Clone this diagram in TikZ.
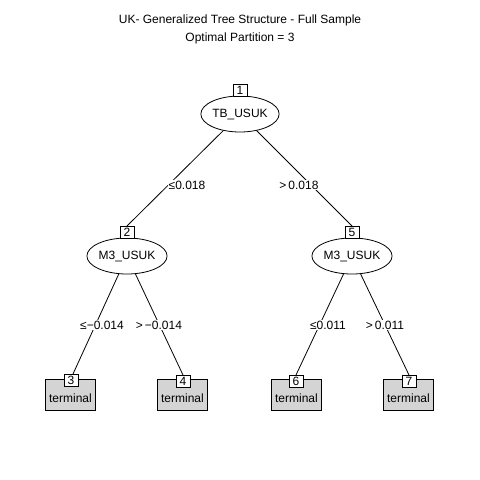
\documentclass[tikz,border=0pt]{standalone}
\usepackage{fontspec}
\setmainfont{Liberation Sans}
\usetikzlibrary{shapes.geometric}
\begin{document}
\begin{tikzpicture}[x=1pt,y=-1pt,line width=0.8pt,
  inner/.style={draw,ellipse,fill=white,minimum width=74pt,minimum height=36pt,inner sep=0pt,font=\fontsize{12}{14}\selectfont},
  idbox/.style={draw,fill=white,minimum width=14pt,minimum height=12pt,inner sep=0pt,font=\fontsize{12}{14}\selectfont},
  leaf/.style={draw,fill=black!17,minimum width=50pt,minimum height=31pt,inner sep=0pt,font=\fontsize{12}{14}\selectfont,text depth=0pt},
  elabel/.style={fill=white,inner sep=1pt,font=\fontsize{12}{14}\selectfont},
  conn/.style={draw}]
\path[use as bounding box,fill=white] (0,0) rectangle (480,480);
\node[font=\fontsize{12}{14}\selectfont] (t1) at (240,20) {UK- Generalized Tree Structure - Full Sample};
\node[font=\fontsize{12}{14}\selectfont] (t2) at (240,38) {Optimal Partition = 3};
% coordinates
\coordinate (c1) at (240,114);
\coordinate (c2) at (127,256);
\coordinate (c5) at (352,256);
\coordinate (c3) at (70.5,394.5);
\coordinate (c4) at (182.5,394.5);
\coordinate (c6) at (296.5,394.5);
\coordinate (c7) at (408.5,394.5);
% connectors
\draw[conn] (c1) -- (127,226) coordinate (b2top);
\draw[conn] (c1) -- (352,226) coordinate (b5top);
\draw[conn] (c2) -- (73,374);
\draw[conn] (c2) -- (183,375);
\draw[conn] (c5) -- (296,375);
\draw[conn] (c5) -- (409,375);
% inner nodes
\node[inner] (n1) at (c1) {TB\_USUK};
\node[idbox] (i1) at (240,90) {1};
\node[inner] (n2) at (c2) {M3\_USUK};
\node[idbox] (i2) at (127,232) {2};
\node[inner] (n5) at (c5) {M3\_USUK};
\node[idbox] (i5) at (352,232) {5};
% leaves
\node[leaf] (n3) at (c3) {\raisebox{-7pt}{terminal}};
\node[idbox] (i3) at (71,380) {3};
\node[leaf] (n4) at (c4) {\raisebox{-7pt}{terminal}};
\node[idbox] (i4) at (183,381) {4};
\node[leaf] (n6) at (c6) {\raisebox{-7pt}{terminal}};
\node[idbox] (i6) at (296,381) {6};
\node[leaf] (n7) at (c7) {\raisebox{-7pt}{terminal}};
\node[idbox] (i7) at (409,381) {7};
% edge labels
\node[elabel] (l12) at (187,185) {≤0.018};
\node[elabel] (l15) at (299,185) {>\,0.018};
\node[elabel] (l23) at (102,325) {≤−0.014};
\node[elabel] (l24) at (159,325) {>\,−0.014};
\node[elabel] (l56) at (328,325) {≤0.011};
\node[elabel] (l57) at (385,325) {>\,0.011};
\end{tikzpicture}
\end{document}
